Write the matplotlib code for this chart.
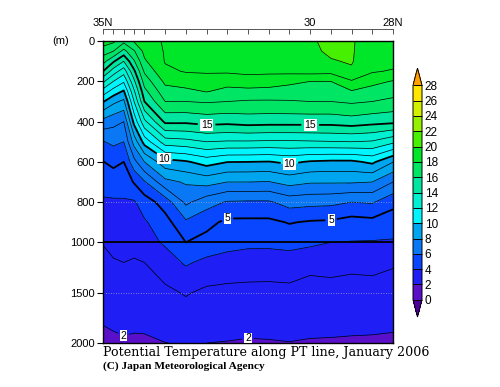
import numpy as np
import matplotlib
matplotlib.use("Agg")
from matplotlib import pyplot as plt
from matplotlib.colors import ListedColormap

# Stations along the PT line (deg N) and standard depths (m)
lats = [35.0, 34.75, 34.5, 34.25, 34.0, 33.5, 33.0, 32.5, 32.0, 31.5,
        31.0, 30.5, 30.0, 29.5, 29.0, 28.5, 28.0]
depths = [0, 50, 100, 150, 200, 250, 300, 400, 500, 600, 700, 800, 900,
          1000, 1200, 1500, 2000]

# Potential temperature profiles (deg C), one list per station
st01 = [18.5, 17.5, 16.36, 15.0, 13.2, 11.57, 10.09, 7.65, 5.95, 4.97, 4.39, 3.86, 3.43, 3.04, 2.76, 2.37, 1.8]
st02 = [18.2, 17.0, 15.14, 13.5, 12.0, 10.55, 9.24, 7.31, 6.2, 5.25, 4.45, 3.89, 3.62, 3.35, 2.9, 2.49, 1.85]
st03 = [17.3, 15.67, 14.0, 12.43, 11.12, 9.87, 8.78, 7.0, 6.0, 5.0, 4.38, 3.91, 3.68, 3.45, 3.0, 2.58, 1.9]
st04 = [18.1, 16.9, 15.89, 14.8, 13.8, 12.83, 12.0, 10.3, 8.4, 6.67, 5.08, 3.89, 3.62, 3.35, 2.9, 2.49, 1.88]
st05 = [18.6, 18.27, 17.86, 17.14, 16.43, 15.71, 15.0, 12.75, 10.4, 8.0, 5.89, 4.5, 3.88, 3.59, 3.0, 2.54, 1.88]
st06 = [19.1, 19.08, 19.05, 18.85, 18.22, 17.63, 17.0, 15.21, 12.5, 9.63, 7.69, 5.44, 4.62, 4.14, 3.51, 2.8, 1.99]
st07 = [19.35, 19.33, 19.25, 19.05, 18.57, 17.71, 17.0, 15.19, 12.67, 9.88, 8.12, 7.21, 5.83, 5.0, 4.13, 3.08, 2.05]
st08 = [19.4, 19.38, 19.3, 19.1, 18.6, 18.05, 17.1, 15.38, 13.0, 10.41, 8.38, 6.42, 5.29, 4.67, 3.75, 2.8, 2.0]
st09 = [19.45, 19.43, 19.35, 19.12, 18.42, 17.67, 17.0, 15.3, 12.9, 10.02, 8.0, 5.91, 4.79, 4.38, 3.57, 2.75, 1.97]
st10 = [19.45, 19.43, 19.38, 19.2, 18.6, 17.7, 16.9, 15.45, 12.9, 10.0, 8.0, 5.87, 4.79, 4.18, 3.61, 2.67, 1.93]
st11 = [19.45, 19.43, 19.35, 19.15, 18.6, 17.6, 16.9, 15.4, 12.85, 9.95, 7.95, 5.87, 4.79, 4.18, 3.6, 2.65, 1.95]
st12 = [19.6, 19.58, 19.5, 19.25, 18.25, 17.53, 16.93, 15.4, 12.85, 10.2, 8.36, 6.4, 5.06, 4.34, 3.51, 2.76, 1.98]
st13 = [19.9, 19.85, 19.7, 19.35, 18.0, 17.5, 17.0, 15.4, 12.9, 9.9, 8.1, 6.3, 4.9, 4.2, 3.3, 2.6, 1.94]
st14 = [20.2, 20.12, 19.95, 19.3, 18.0, 17.5, 17.0, 15.4, 12.95, 9.8, 8.1, 6.25, 4.85, 4.0, 3.35, 2.65, 1.92]
st15 = [20.1, 20.08, 20.06, 19.9, 18.9, 17.92, 17.15, 15.55, 13.0, 9.8, 8.1, 6.0, 4.6, 3.96, 3.25, 2.6, 1.9]
st16 = [19.5, 19.48, 19.4, 19.1, 18.3, 17.6, 17.0, 15.35, 12.9, 10.2, 8.0, 6.1, 4.7, 3.93, 3.3, 2.62, 1.88]
st17 = [19.5, 19.48, 19.35, 18.9, 17.93, 17.37, 16.77, 15.24, 12.23, 9.03, 7.0, 5.29, 4.48, 3.9, 3.11, 2.56, 1.85]

shade_levels = list(range(0, 30, 2))
shade_colors = ["#5a0fc8", "#1e1ef5", "#0846ff", "#0a78f5", "#00a5f0", "#00f5ff",
                "#00f0d2", "#00e6a0", "#00e664", "#00e628", "#46f000", "#96f000",
                "#d2f000", "#ffe600"]
under_color = "#50009a"
over_color = "#ffa000"
line_levels = list(range(1, 29))
thick_levels = [5, 10, 15]
depth_ticks = [0, 200, 400, 600, 800, 1000, 1500, 2000]
lat_labels = {35.0: "35N", 30.0: "30", 28.0: "28N"}

temp = np.array([st01, st02, st03, st04, st05, st06, st07, st08, st09, st10,
                 st11, st12, st13, st14, st15, st16, st17]).T


def fwd(d):
    d = np.asarray(d, dtype=float)
    return np.where(d <= 1000, d, 1000 + (d - 1000) / 2.0)


def inv(y):
    y = np.asarray(y, dtype=float)
    return np.where(y <= 1000, y, 1000 + (y - 1000) * 2.0)


plt.rcParams['font.family'] = ['Liberation Sans', 'DejaVu Sans']
fig = plt.figure(figsize=(5.0, 3.87), dpi=100)
ax = fig.add_axes([0.206, 0.1137, 0.58, 0.780])
ax.set_yscale('function', functions=(fwd, inv))

cmap = ListedColormap(shade_colors)
cmap.set_under(under_color)
cmap.set_over(over_color)

X, Y = np.meshgrid(lats, depths)
cf = ax.contourf(X, Y, temp, levels=shade_levels, cmap=cmap,
                 vmin=0, vmax=28, extend='both')
thin = [l for l in line_levels if l not in thick_levels and l != 2]
cs_thin = ax.contour(X, Y, temp, levels=thin, colors='black', linewidths=0.5)
cs_two = ax.contour(X, Y, temp, levels=[2], colors='black', linewidths=0.5)
cs_thick = ax.contour(X, Y, temp, levels=thick_levels, colors='black', linewidths=1.3)

lab_thick = ax.clabel(cs_thick, fmt='%d', fontsize=7.5, inline=True, inline_spacing=3,
                      manual=[(32.5, 418), (30.0, 420), (33.55, 590), (30.5, 610),
                              (32.0, 850), (29.5, 880)])
lab_two = ax.clabel(cs_two, fmt='%d', fontsize=7.5, inline=True,
                    inline_spacing=3, manual=[(34.5, 1920), (31.5, 1900)])
for t in list(lab_thick) + list(lab_two):
    t.set_rotation(0)
    t.set_bbox(dict(facecolor='white', edgecolor='none', pad=0.5))

ax.axhline(1000, color='black', lw=1.3)
for d in [800, 1500]:
    ax.axhline(d, color='#a0a0c8', lw=0.6, ls=(0, (1, 2)))

ax.set_xlim(35, 28)
ax.set_ylim(2000, 0)
ax.set_yticks(depth_ticks)
ax.set_yticklabels([str(d) for d in depth_ticks])
ax.yaxis.set_minor_locator(matplotlib.ticker.NullLocator())
ax.tick_params(axis='y', direction='out', length=4, width=0.8, labelsize=8, pad=2)
ax.set_xticks([])
for s in ax.spines.values():
    s.set_linewidth(1.0)

# station axis above the section
ax2 = ax.twiny()
ax2.set_xlim(35, 28)
ax2.set_xticks(lats)
ax2.set_xticklabels([lat_labels.get(l, "") for l in lats])
ax2.spines['top'].set_position(('outward', 8.6))
ax2.spines['top'].set_linewidth(0.7)
ax2.spines['top'].set_color('#555555')
for k in ['left', 'right', 'bottom']:
    ax2.spines[k].set_visible(False)
ax2.tick_params(axis='x', direction='in', length=3.5, width=0.7, color='#555555',
                labelsize=8, pad=0.5)

fig.text(0.104, 0.894, "(m)", fontsize=8, ha='left', va='center')

# colorbar
cax = fig.add_axes([0.826, 0.181, 0.018, 0.643])
cb = fig.colorbar(cf, cax=cax, ticks=shade_levels, drawedges=True, extendfrac=0.08)
cb.outline.set_linewidth(0.7)
cb.dividers.set_color('black')
cb.dividers.set_linewidth(0.7)
cax.tick_params(length=0, labelsize=8.5, pad=2)

fig.text(0.206, 0.088, "Potential Temperature along PT line, January 2006",
         family='DejaVu Serif', fontsize=9.1, ha='left', va='center')
fig.text(0.206, 0.054, "(C) Japan Meteorological Agency",
         family='Liberation Serif', fontweight='bold', fontsize=8.2, ha='left', va='center')

fig.savefig("out.png", dpi=100)
